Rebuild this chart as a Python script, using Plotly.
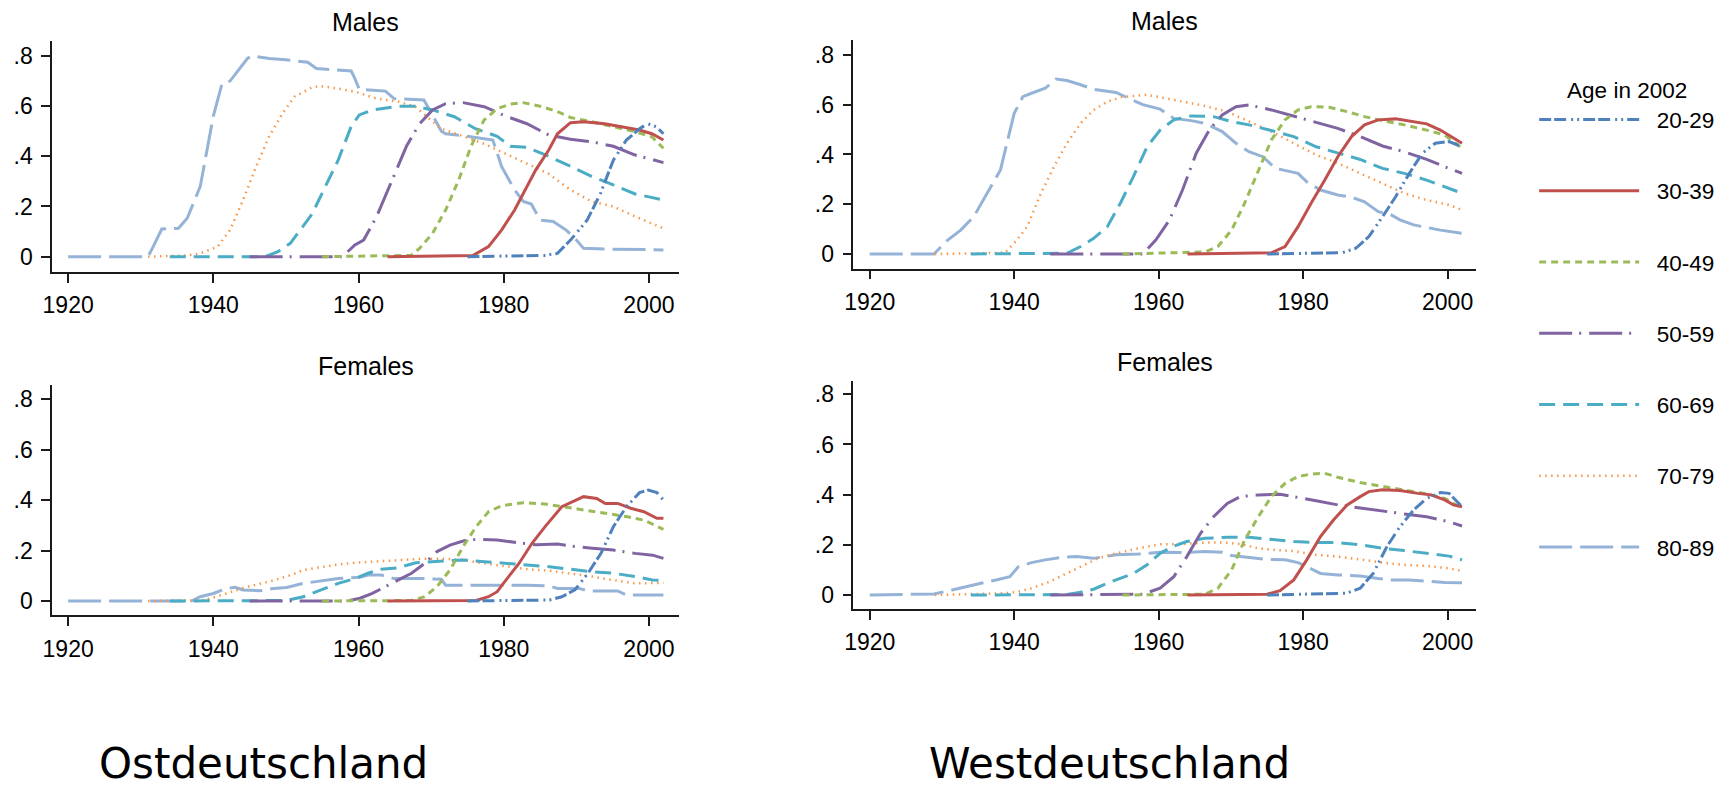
import plotly.graph_objects as go

# ---------------- data ----------------
AGE_GROUPS = ["20-29", "30-39", "40-49", "50-59", "60-69", "70-79", "80-89"]
X_TICKS = [1920, 1940, 1960, 1980, 2000]
Y_TICKS = [0, 0.2, 0.4, 0.6, 0.8]
Y_TICK_LABELS = ["0", ".2", ".4", ".6", ".8"]
PANEL_TITLES = ["Males", "Males", "Females", "Females"]
REGION_LABELS = ["Ostdeutschland", "Westdeutschland"]
LEGEND_TITLE = "Age in 2002"

# (year, share) pairs per age group
east_males = {
    "80-89": [(1920, 0), (1931, 0), (1931.6, 0.033), (1932.9, 0.11), (1935.2, 0.113), (1936.4, 0.153),
              (1938.2, 0.28), (1940, 0.56), (1941.2, 0.69), (1942.3, 0.70), (1944.7, 0.79), (1945.3, 0.80),
              (1947.7, 0.79), (1950, 0.785), (1953, 0.775), (1954.2, 0.75), (1959, 0.74), (1959.5, 0.71),
              (1960.1, 0.667), (1963.7, 0.66), (1964.9, 0.63), (1969, 0.625), (1970.2, 0.565), (1971.4, 0.50),
              (1972, 0.49), (1975, 0.48), (1978.5, 0.465), (1979.7, 0.36), (1981.5, 0.266), (1982.7, 0.22),
              (1983.8, 0.21), (1985, 0.146), (1986.8, 0.14), (1988.6, 0.106), (1989.8, 0.073), (1991, 0.033),
              (1995, 0.03), (2002, 0.027)],
    "70-79": [(1931, 0), (1936.5, 0.005), (1938.2, 0.013), (1940.6, 0.04), (1942.3, 0.106), (1944.1, 0.226),
              (1945.9, 0.36), (1947.7, 0.48), (1949.5, 0.57), (1951.2, 0.638), (1953.6, 0.675), (1954.8, 0.68),
              (1957.2, 0.67), (1959.5, 0.658), (1962.5, 0.63), (1965.5, 0.618), (1967.8, 0.598), (1971.4, 0.51),
              (1974.4, 0.48), (1977.3, 0.45), (1980.3, 0.41), (1983.2, 0.37), (1986.2, 0.33), (1989.2, 0.266),
              (1992.1, 0.22), (1995.1, 0.2), (1998.1, 0.16), (2002, 0.113)],
    "60-69": [(1934, 0), (1947.1, 0), (1948.9, 0.02), (1950.6, 0.053), (1953.6, 0.17), (1955.4, 0.28),
              (1957.2, 0.385), (1959, 0.52), (1960.1, 0.565), (1961.9, 0.585), (1965.5, 0.6), (1967.8, 0.6),
              (1970.2, 0.585), (1973.2, 0.558), (1976.1, 0.51), (1979.1, 0.48), (1980.9, 0.44), (1983.2, 0.436),
              (1986.2, 0.4), (1989.2, 0.36), (1992.1, 0.32), (1995.1, 0.286), (1998.1, 0.25), (2002, 0.226)],
    "50-59": [(1945, 0), (1957.8, 0), (1959.5, 0.047), (1960.7, 0.066), (1962.5, 0.16), (1964.3, 0.28),
              (1966.6, 0.44), (1968.4, 0.53), (1970.2, 0.585), (1972, 0.61), (1974.4, 0.614), (1977.3, 0.598),
              (1980.3, 0.56), (1983.2, 0.53), (1986.2, 0.485), (1989.2, 0.468), (1992.1, 0.458), (1995.1, 0.44),
              (1998.1, 0.405), (2000.4, 0.388), (2002, 0.375)],
    "40-49": [(1955, 0), (1967.2, 0.005), (1968.4, 0.033), (1970.2, 0.093), (1972, 0.186), (1973.8, 0.306),
              (1975.5, 0.44), (1977.3, 0.545), (1979.1, 0.59), (1980.9, 0.608), (1982.7, 0.614), (1985, 0.6),
              (1987.4, 0.578), (1989.2, 0.555), (1992.1, 0.538), (1995.1, 0.518), (1998.1, 0.498),
              (2000.4, 0.478), (2002, 0.432)],
    "30-39": [(1964, 0), (1975.8, 0.005), (1977.9, 0.04), (1979.7, 0.106), (1981.5, 0.186), (1983.2, 0.28),
              (1984.4, 0.345), (1986.2, 0.425), (1987.4, 0.49), (1989.2, 0.534), (1991, 0.538), (1993.9, 0.53),
              (1996.3, 0.516), (1998.7, 0.505), (2000.4, 0.49), (2002, 0.465)],
    "20-29": [(1975, 0), (1985.6, 0.005), (1987.4, 0.013), (1989.2, 0.066), (1991.5, 0.146), (1993.3, 0.25),
              (1995.1, 0.385), (1996.9, 0.465), (1998.7, 0.51), (1999.8, 0.53), (2001, 0.518), (2002, 0.49)],
}

west_males = {
    "80-89": [(1920, 0), (1928.9, 0), (1930.8, 0.056), (1932.6, 0.096), (1934.4, 0.15), (1936.3, 0.244),
              (1938.1, 0.338), (1940, 0.565), (1941.2, 0.632), (1942.4, 0.646), (1944.3, 0.666), (1945.8, 0.703),
              (1947.3, 0.697), (1949.2, 0.68), (1951, 0.662), (1954.1, 0.649), (1955.9, 0.626), (1957.8, 0.6),
              (1960.2, 0.582), (1962.1, 0.545), (1964.5, 0.536), (1966.4, 0.525), (1968.8, 0.492),
              (1970.7, 0.445), (1972.5, 0.411), (1974.4, 0.391), (1976.2, 0.344), (1978.1, 0.331),
              (1979.3, 0.324), (1980.5, 0.29), (1982.4, 0.257), (1984.8, 0.237), (1986.7, 0.228), (1988.5, 0.21),
              (1990.4, 0.17), (1992.2, 0.157), (1993.4, 0.137), (1995.3, 0.117), (1997.1, 0.106), (1999, 0.096),
              (2002, 0.083)],
    "70-79": [(1929, 0), (1938.7, 0.005), (1940, 0.043), (1941.8, 0.11), (1943.7, 0.244), (1945.5, 0.35),
              (1947.3, 0.445), (1949.2, 0.525), (1951, 0.579), (1952.9, 0.612), (1954.7, 0.63), (1956.5, 0.635),
              (1958.4, 0.64), (1960.2, 0.63), (1963.3, 0.612), (1966.4, 0.595), (1969.5, 0.572), (1972.5, 0.532),
              (1975.6, 0.492), (1978.7, 0.445), (1981.8, 0.398), (1984.8, 0.365), (1987.9, 0.324), (1991, 0.284),
              (1994, 0.244), (1997.1, 0.217), (2000.2, 0.197), (2002, 0.177)],
    "60-69": [(1934, 0), (1947.3, 0.003), (1949.2, 0.03), (1951, 0.063), (1952.9, 0.11), (1954.7, 0.204),
              (1956.5, 0.311), (1958.4, 0.431), (1960.2, 0.498), (1962.1, 0.539), (1964.5, 0.555),
              (1967.6, 0.552), (1970.1, 0.532), (1972.5, 0.519), (1975.6, 0.496), (1978.7, 0.472),
              (1981.8, 0.431), (1984.8, 0.405), (1987.9, 0.38), (1991, 0.344), (1994, 0.324), (1997.1, 0.297),
              (2000.2, 0.264), (2002, 0.244)],
    "50-59": [(1945, 0), (1957.8, 0), (1959.6, 0.056), (1961.5, 0.137), (1963.3, 0.257), (1965.2, 0.405),
              (1967, 0.498), (1968.8, 0.559), (1970.7, 0.592), (1972.5, 0.599), (1975.6, 0.579), (1978.7, 0.555),
              (1981.8, 0.528), (1984.8, 0.505), (1987.9, 0.472), (1991, 0.434), (1994, 0.411), (1997.1, 0.38),
              (2000.2, 0.344), (2002, 0.324)],
    "40-49": [(1955, 0), (1966.4, 0.008), (1968.2, 0.03), (1970.1, 0.096), (1971.9, 0.204), (1973.8, 0.338),
              (1975.6, 0.458), (1977.5, 0.539), (1979.3, 0.579), (1981.1, 0.592), (1983.6, 0.59),
              (1986.1, 0.572), (1988.5, 0.552), (1991, 0.536), (1994, 0.519), (1997.1, 0.498), (1999.6, 0.478),
              (2002, 0.425)],
    "30-39": [(1964, 0), (1975.6, 0.005), (1977.5, 0.03), (1979.3, 0.11), (1981.1, 0.204), (1983, 0.297),
              (1984.8, 0.391), (1986.7, 0.472), (1988.5, 0.519), (1990.4, 0.539), (1992.8, 0.543),
              (1995.3, 0.532), (1997.1, 0.523), (1999, 0.498), (2000.8, 0.465), (2002, 0.445)],
    "20-29": [(1975, 0), (1985.4, 0.005), (1987.3, 0.023), (1989.1, 0.07), (1991, 0.15), (1992.8, 0.23),
              (1994.7, 0.324), (1996.5, 0.405), (1998.3, 0.445), (2000.2, 0.452), (2002, 0.431)],
}

east_females = {
    "80-89": [(1920, 0), (1937, 0), (1938.2, 0.017), (1940, 0.03), (1941.8, 0.05), (1943, 0.054),
              (1944.1, 0.044), (1946.5, 0.041), (1948.3, 0.05), (1950.1, 0.054), (1952.4, 0.07), (1954.8, 0.08),
              (1957.2, 0.089), (1960.2, 0.094), (1961.3, 0.103), (1963.1, 0.103), (1964.9, 0.089), (1969, 0.089),
              (1971.4, 0.086), (1972, 0.063), (1983.3, 0.063), (1986.3, 0.06), (1987.4, 0.05), (1990.4, 0.05),
              (1991.6, 0.04), (1995.7, 0.04), (1996.9, 0.024), (2002, 0.024)],
    "70-79": [(1931, 0), (1938.8, 0.003), (1941.8, 0.03), (1944.7, 0.057), (1947.7, 0.077), (1950.7, 0.103),
              (1952.4, 0.123), (1954.8, 0.134), (1957.2, 0.145), (1959.6, 0.152), (1962.5, 0.156),
              (1965.5, 0.163), (1968.5, 0.167), (1971.4, 0.168), (1974.4, 0.163), (1977.4, 0.149),
              (1980.3, 0.139), (1983.3, 0.126), (1986.3, 0.12), (1989.2, 0.11), (1992.2, 0.097), (1995.1, 0.083),
              (1998.1, 0.07), (2002, 0.072)],
    "60-69": [(1934, 0), (1950.1, 0.002), (1952.4, 0.017), (1954.8, 0.044), (1957.2, 0.07), (1959.6, 0.09),
              (1961.3, 0.11), (1963.1, 0.126), (1965.5, 0.132), (1967.9, 0.152), (1970.2, 0.156), (1972.6, 0.16),
              (1974.4, 0.163), (1977.4, 0.156), (1980.3, 0.149), (1983.3, 0.143), (1986.3, 0.136),
              (1989.2, 0.126), (1992.2, 0.116), (1995.1, 0.11), (1998.1, 0.097), (2000.5, 0.083), (2002, 0.081)],
    "50-59": [(1945, 0), (1958.4, 0), (1960.2, 0.011), (1961.9, 0.03), (1963.7, 0.057), (1965.5, 0.083),
              (1967.3, 0.11), (1969.1, 0.149), (1970.8, 0.196), (1972.6, 0.222), (1974.4, 0.238),
              (1976.2, 0.245), (1979.1, 0.242), (1982.1, 0.231), (1984.5, 0.223), (1987.4, 0.226),
              (1989.2, 0.218), (1992.2, 0.209), (1995.1, 0.202), (1998.1, 0.189), (2000.5, 0.182), (2002, 0.169)],
    "40-49": [(1955, 0), (1967.3, 0.002), (1969.1, 0.017), (1970.8, 0.057), (1972.6, 0.123), (1974.4, 0.216),
              (1976.2, 0.295), (1977.9, 0.354), (1979.7, 0.378), (1982.7, 0.39), (1985.7, 0.385), (1988, 0.374),
              (1991, 0.361), (1994, 0.348), (1996.9, 0.335), (1999.3, 0.321), (2002, 0.284)],
    "30-39": [(1964, 0), (1976.2, 0.002), (1977.9, 0.017), (1979.1, 0.037), (1980.3, 0.083), (1982.1, 0.149),
              (1983.9, 0.229), (1985.7, 0.295), (1988, 0.374), (1989.8, 0.4), (1991, 0.414), (1992.8, 0.407),
              (1994, 0.387), (1995.7, 0.387), (1997.5, 0.368), (1999.3, 0.354), (2001.1, 0.328), (2002, 0.328)],
    "20-29": [(1975, 0), (1986.3, 0.004), (1988, 0.017), (1989.8, 0.044), (1991.6, 0.11), (1993.4, 0.189),
              (1995.1, 0.295), (1996.9, 0.374), (1998.7, 0.43), (1999.9, 0.44), (2001.1, 0.43), (2002, 0.4)],
}

west_females = {
    "80-89": [(1920, 0), (1928.9, 0.004), (1931.4, 0.02), (1933.2, 0.033), (1935.7, 0.049), (1937.5, 0.06),
              (1939.4, 0.073), (1940.6, 0.113), (1942.4, 0.129), (1944.3, 0.14), (1946.7, 0.15), (1948.6, 0.153),
              (1951, 0.146), (1954.1, 0.16), (1957.2, 0.163), (1960.2, 0.17), (1963.3, 0.169), (1966.4, 0.173),
              (1968.8, 0.17), (1970.1, 0.157), (1972.5, 0.15), (1975, 0.142), (1977.5, 0.14), (1979.3, 0.129),
              (1980.5, 0.113), (1982.4, 0.086), (1984.8, 0.08), (1987.9, 0.076), (1990.4, 0.066), (1992.2, 0.06),
              (1994.7, 0.06), (1997.1, 0.056), (1999.6, 0.05), (2002, 0.049)],
    "70-79": [(1929, 0), (1938.7, 0.007), (1940.6, 0.013), (1942.4, 0.027), (1944.9, 0.053), (1947.3, 0.086),
              (1949.2, 0.113), (1951.6, 0.146), (1954.1, 0.166), (1957.2, 0.186), (1960.2, 0.202),
              (1963.3, 0.203), (1966.4, 0.209), (1968.8, 0.209), (1971.3, 0.203), (1973.8, 0.186),
              (1976.2, 0.179), (1978.7, 0.175), (1981.8, 0.16), (1984.8, 0.153), (1987.9, 0.142), (1991, 0.129),
              (1994, 0.12), (1997.1, 0.116), (2000.2, 0.106), (2002, 0.096)],
    "60-69": [(1934, 0), (1947.3, 0.002), (1949.2, 0.011), (1951, 0.023), (1952.9, 0.047), (1954.7, 0.066),
              (1956.5, 0.086), (1958.4, 0.12), (1960.2, 0.166), (1962.1, 0.195), (1963.9, 0.213),
              (1966.4, 0.226), (1969.5, 0.23), (1972.5, 0.23), (1975.6, 0.222), (1978.7, 0.213), (1981.8, 0.209),
              (1984.8, 0.209), (1987.9, 0.2), (1991, 0.186), (1994, 0.177), (1997.1, 0.166), (2000.2, 0.155),
              (2002, 0.14)],
    "50-59": [(1945, 0), (1957.8, 0.003), (1960.2, 0.027), (1962.1, 0.073), (1963.9, 0.153), (1965.8, 0.246),
              (1967.6, 0.312), (1969.5, 0.365), (1971.3, 0.392), (1973.8, 0.399), (1976.8, 0.401),
              (1978.7, 0.392), (1981.8, 0.376), (1984.8, 0.359), (1987.9, 0.346), (1991, 0.336), (1994, 0.323),
              (1997.1, 0.312), (2000.2, 0.292), (2002, 0.275)],
    "40-49": [(1955, 0), (1966.4, 0.003), (1968.2, 0.027), (1970.1, 0.1), (1971.9, 0.219), (1973.8, 0.312),
              (1975.6, 0.392), (1977.5, 0.445), (1979.3, 0.472), (1981.1, 0.482), (1983, 0.485), (1984.8, 0.469),
              (1987.9, 0.448), (1991, 0.432), (1994, 0.419), (1997.1, 0.403), (1999.6, 0.385), (2002, 0.346)],
    "30-39": [(1964, 0), (1975, 0.003), (1976.8, 0.017), (1978.7, 0.06), (1980.5, 0.14), (1982.4, 0.233),
              (1984.2, 0.299), (1986.1, 0.359), (1987.9, 0.392), (1989.1, 0.412), (1991, 0.419), (1993.4, 0.416),
              (1995.9, 0.405), (1997.7, 0.399), (1999.6, 0.379), (2000.8, 0.359), (2002, 0.352)],
    "20-29": [(1975, 0), (1986, 0.007), (1987.9, 0.027), (1989.7, 0.086), (1991.6, 0.193), (1993.4, 0.272),
              (1995.3, 0.339), (1997.1, 0.385), (1999, 0.408), (2000.2, 0.405), (2002, 0.352)],
}

# ---------------- styling ----------------
COLORS = {"20-29": "#4F81BD", "30-39": "#C0504D", "40-49": "#9BBB59", "50-59": "#8064A2",
          "60-69": "#4BACC6", "70-79": "#F79646", "80-89": "#95B3D7"}
DASHES = {"20-29": "12px,3px,12px,5px,2px,4px,2px,4px", "30-39": "solid", "40-49": "7px,5px",
          "50-59": "33px,7px,2px,8px", "60-69": "16px,8px", "70-79": "1.5px,4.5px", "80-89": "33px,8px"}
WIDTHS = {"20-29": 3, "30-39": 3, "40-49": 3, "50-59": 3, "60-69": 3, "70-79": 2.5, "80-89": 3}

SANS = "Liberation Sans, Arial, sans-serif"
W, H = 1734, 788
NBSP = "\u00a0"

fig = go.Figure()
panels = [(east_males, "x", "y"), (west_males, "x2", "y2"),
          (east_females, "x3", "y3"), (west_females, "x4", "y4")]
for pi, (data, xa, ya) in enumerate(panels):
    for g in reversed(AGE_GROUPS):   # younger cohorts drawn on top
        pts = data[g]
        fig.add_trace(go.Scatter(
            x=[p[0] for p in pts], y=[p[1] for p in pts], xaxis=xa, yaxis=ya,
            mode="lines", name=NBSP * 2 + g, legendgroup=g, showlegend=(pi == 0),
            legendrank=AGE_GROUPS.index(g) + 1,
            line=dict(color=COLORS[g], width=WIDTHS[g], dash=DASHES[g]),
        ))

# plot areas in pixels (left, right, top, bottom)
boxes = [(42.4, 673.3, 40.7, 272.0), (848.2, 1475.0, 40.0, 268.7),
         (42.4, 673.3, 385.0, 615.3), (848.2, 1475.0, 380.7, 609.0)]
yranges = [(-0.0612, 0.861), (-0.0591, 0.860), (-0.0567, 0.857), (-0.0558, 0.854)]
xranges = [(1917.8, 2004.2), (1917.73, 2004.0), (1917.8, 2004.2), (1917.73, 2004.0)]

axis_common = dict(showgrid=False, zeroline=False, showline=True, linecolor="#1a1a1a", linewidth=1.5,
                   ticks="outside", tickcolor="#1a1a1a", tickwidth=1.5, ticklen=9,
                   tickfont=dict(family=SANS, size=23, color="#000"))
layout = {}
for i, ((l, r, t, b), yr, xr) in enumerate(zip(boxes, yranges, xranges)):
    sfx = "" if i == 0 else str(i + 1)
    layout["xaxis" + sfx] = dict(domain=[l / W, r / W], range=list(xr), anchor="y" + sfx,
                                 tickvals=X_TICKS, ticklabelstandoff=3, **axis_common)
    layout["yaxis" + sfx] = dict(domain=[1 - b / H, 1 - t / H], range=list(yr), anchor="x" + sfx,
                                 tickvals=Y_TICKS, ticktext=Y_TICK_LABELS,
                                 ticklabelstandoff=4, **axis_common)

title_pos = [(357.8, 22.0), (1161.6, 20.9), (357.8, 365.9), (1161.6, 362.4)]
annotations = []
for txt, (cx, cy) in zip(PANEL_TITLES, title_pos):
    annotations.append(dict(text=txt, x=cx / W, y=1 - cy / H, xref="paper", yref="paper",
                            xanchor="center", yanchor="middle", showarrow=False,
                            font=dict(family=SANS, size=25, color="#000")))
for txt, lx in zip(REGION_LABELS, [89, 923]):
    annotations.append(dict(text=txt, x=lx / W, y=0, xref="paper", yref="paper",
                            xanchor="left", yanchor="bottom", showarrow=False, borderpad=0,
                            yshift=-1,
                            font=dict(family="DejaVu Sans", size=42, color="#000")))

fig.update_layout(
    **layout,
    annotations=annotations,
    width=W, height=H, autosize=False,
    margin=dict(l=0, r=0, t=0, b=0),
    paper_bgcolor="white", plot_bgcolor="white",
    legend=dict(x=1533 / W, y=1 - 69 / H, xanchor="left", yanchor="top",
                traceorder="grouped", tracegroupgap=39, itemwidth=100,
                bgcolor="rgba(0,0,0,0)",
                font=dict(family=SANS, size=22.5, color="#000"),
                title=dict(text=LEGEND_TITLE, side="top center",
                           font=dict(family=SANS, size=22.5, color="#000"))),
    showlegend=True,
)

fig.write_html("out.html", config={"displayModeBar": False},
               post_script="document.body.style.margin='0px';document.body.style.padding='0px';")
